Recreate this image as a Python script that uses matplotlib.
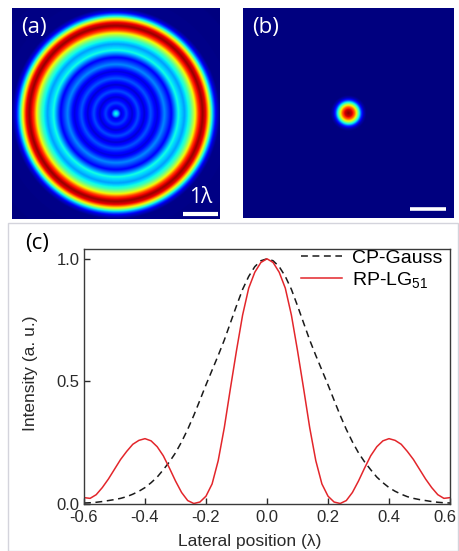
import numpy as np
import matplotlib
matplotlib.use('Agg')
import matplotlib.pyplot as plt
from matplotlib.patches import Rectangle
from matplotlib.transforms import ScaledTranslation

# panel (c): lateral position (lambda) and normalised intensity
pos = [-0.60, -0.58, -0.56, -0.54, -0.52, -0.50, -0.48, -0.46, -0.44, -0.42,
       -0.40, -0.38, -0.36, -0.34, -0.32, -0.30, -0.28, -0.26, -0.24, -0.22,
       -0.20, -0.18, -0.16, -0.14, -0.12, -0.10, -0.08, -0.06, -0.04, -0.02,
       0.00, 0.02, 0.04, 0.06, 0.08, 0.10, 0.12, 0.14, 0.16, 0.18,
       0.20, 0.22, 0.24, 0.26, 0.28, 0.30, 0.32, 0.34, 0.36, 0.38,
       0.40, 0.42, 0.44, 0.46, 0.48, 0.50, 0.52, 0.54, 0.56, 0.58, 0.60]

cp_gauss = [0.002, 0.003, 0.005, 0.008, 0.012, 0.016, 0.021, 0.028, 0.038, 0.050,
            0.065, 0.085, 0.108, 0.138, 0.170, 0.207, 0.252, 0.303, 0.360, 0.422,
            0.485, 0.545, 0.605, 0.668, 0.738, 0.808, 0.875, 0.928, 0.968, 0.992,
            1.000, 0.992, 0.968, 0.928, 0.875, 0.808, 0.738, 0.668, 0.605, 0.545,
            0.485, 0.422, 0.360, 0.303, 0.252, 0.207, 0.170, 0.138, 0.108, 0.085,
            0.065, 0.050, 0.038, 0.028, 0.021, 0.016, 0.012, 0.008, 0.005, 0.003, 0.002]

rp_lg51 = [0.024, 0.021, 0.036, 0.065, 0.100, 0.140, 0.180, 0.213, 0.242, 0.258,
           0.265, 0.256, 0.232, 0.195, 0.145, 0.092, 0.045, 0.012, 0.000, 0.006,
           0.030, 0.080, 0.175, 0.310, 0.470, 0.625, 0.770, 0.880, 0.945, 0.985,
           1.000, 0.985, 0.945, 0.880, 0.770, 0.625, 0.470, 0.310, 0.175, 0.080,
           0.030, 0.006, 0.000, 0.012, 0.045, 0.092, 0.145, 0.195, 0.232, 0.256,
           0.265, 0.258, 0.242, 0.213, 0.180, 0.140, 0.100, 0.065, 0.036, 0.021, 0.024]

# panel (a): radial intensity profile of the ring pattern (radius in lambda)
ring_r = [0.00, 0.07, 0.15, 0.30, 0.47, 0.64, 0.82, 1.00, 1.20, 1.40, 1.60, 1.80,
          1.98, 2.15, 2.28, 2.38, 2.50, 2.60, 2.70, 2.80, 2.90, 3.00, 4.50]
ring_i = [0.40, 0.30, 0.08, 0.19, 0.07, 0.20, 0.07, 0.21, 0.08, 0.26, 0.12, 0.38,
          0.28, 0.42, 0.62, 0.85, 0.98, 0.90, 0.62, 0.30, 0.08, 0.01, 0.00]

# panel (b): radial intensity profile of the focal spot
spot_r = [0.00, 0.10, 0.17, 0.23, 0.30, 0.36, 0.42, 0.50, 4.50]
spot_i = [1.00, 0.93, 0.80, 0.62, 0.38, 0.18, 0.05, 0.00, 0.00]

plt.rcParams['font.family'] = ['Liberation Sans', 'DejaVu Sans']
plt.rcParams['mathtext.fontset'] = 'custom'
plt.rcParams['mathtext.rm'] = 'Liberation Sans'
plt.rcParams['mathtext.it'] = 'Liberation Sans:italic'
plt.rcParams['axes.unicode_minus'] = False

W, H = 460, 551
fig = plt.figure(figsize=(W / 100, H / 100), dpi=100)


def box(x0, y0, x1, y1):
    # pixel box (top-left origin) -> figure fraction
    return [x0 / W, 1 - y1 / H, (x1 - x0) / W, (y1 - y0) / H]


# light frame around panel (c)
fig.patches.append(Rectangle((8 / W, 0), 450 / W, 1 - 223 / H, transform=fig.transFigure,
                             fill=False, edgecolor='#d4d4dc', linewidth=1))

lab_font = ['Open Sans', 'DejaVu Sans']

# (a) ring pattern
ax_a = fig.add_axes(box(12, 8, 220, 219))
ext_a = 3.0
g = np.linspace(-ext_a, ext_a, 420)
gx, gy = np.meshgrid(g, g)
img_a = np.interp(np.hypot(gx, gy), ring_r, ring_i)
ax_a.imshow(img_a, cmap='jet', vmin=0, vmax=1, extent=[-ext_a, ext_a, -ext_a, ext_a],
            origin='lower', aspect='auto', interpolation='bilinear')
ax_a.plot([1.94, 2.94], [-2.85, -2.85], color='white', lw=3, solid_capstyle='butt')
ax_a.text(2.44, -2.70, '1λ', color='white', fontsize=15, ha='center', va='bottom',
          family=lab_font)
ax_a.text(0.045, 0.955, '(a)', transform=ax_a.transAxes, color='white', fontsize=16,
          va='top', ha='left', family=lab_font)
ax_a.set_xlim(-ext_a, ext_a)
ax_a.set_ylim(-ext_a, ext_a)
ax_a.axis('off')

# (b) focal spot
ax_b = fig.add_axes(box(243, 8, 454, 218))
ext_b = 2.93
g = np.linspace(-ext_b, ext_b, 420)
gx, gy = np.meshgrid(g, g)
img_b = np.interp(np.hypot(gx, gy), spot_r, spot_i)
ax_b.imshow(img_b, cmap='jet', vmin=0, vmax=1, extent=[-ext_b, ext_b, -ext_b, ext_b],
            origin='lower', aspect='auto', interpolation='bilinear')
ax_b.plot([1.71, 2.70], [-2.67, -2.67], color='white', lw=2.6, solid_capstyle='butt')
ax_b.text(0.045, 0.955, '(b)', transform=ax_b.transAxes, color='white', fontsize=16,
          va='top', ha='left', family=lab_font)
ax_b.set_xlim(-ext_b, ext_b)
ax_b.set_ylim(-ext_b, ext_b)
ax_b.axis('off')

# (c) line profiles
ax = fig.add_axes(box(84, 249, 450, 503.5))
ax.plot(pos, cp_gauss, color='#1a1a1a', lw=1.1, linestyle=(0, (4.5, 3)), label='CP-Gauss')
ax.plot(pos, rp_lg51, color='#e3262b', lw=1.1, label='RP-LG$_{51}$')
ax.set_xlim(-0.6, 0.6)
ax.set_ylim(0, 1.04)
ax.set_xticks([-0.6, -0.4, -0.2, 0.0, 0.2, 0.4, 0.6])
ax.set_yticks([0.0, 0.5, 1.0])
ax.tick_params(direction='in', length=4, width=1, labelsize=12, colors='#2a2a2a',
               top=False, right=False)
ax.tick_params(axis='x', pad=5)
ax.tick_params(axis='y', pad=3)
# keep the last x tick label inside the figure edge
last = ax.get_xticklabels()[-1]
last.set_transform(last.get_transform() + ScaledTranslation(-5 / 100, 0, fig.dpi_scale_trans))
for s in ax.spines.values():
    s.set_color('#3a3a3a')
    s.set_linewidth(1.0)
ax.set_ylabel('Intensity (a. u.)', fontsize=12.5, color='#2a2a2a')
ax.yaxis.set_label_coords(-0.125, 0.51)
ax.set_xlabel('Lateral position (λ)', fontsize=12.5, color='#2a2a2a')
ax.xaxis.set_label_coords(0.454, -0.12)
ax.legend(loc='upper right', bbox_to_anchor=(1.0, 1.03), frameon=False, fontsize=14,
          handlelength=2.1, handletextpad=0.5, labelspacing=0.15, borderaxespad=0)

fig.text(25 / W, 1 - 233 / H, '(c)', fontsize=16, va='top', ha='left', family=lab_font)

fig.savefig('out.png', dpi=100)
